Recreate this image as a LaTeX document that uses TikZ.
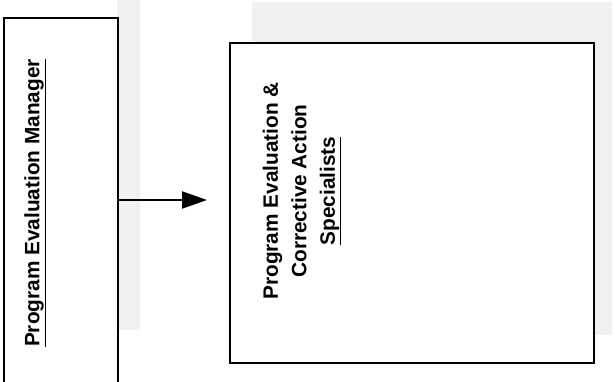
\documentclass[tikz,border=0pt]{standalone}
\usepackage{fontspec}
\setmainfont{Liberation Sans}
\usetikzlibrary{arrows.meta}
\tikzset{
  boxstyle/.style={draw=black, line width=2.2pt, fill=white, inner sep=0pt},
  labelstyle/.style={rotate=90, font=\bfseries\fontsize{20.8}{28.5}\selectfont, align=center, inner sep=0pt},
  shade/.style={fill=black!6, draw=none},
  link/.style={line width=2.2pt, -{Triangle[length=25pt,width=17pt]}}
}
\begin{document}
\begin{tikzpicture}[x=1pt,y=-1pt]
\useasboundingbox (0,0) rectangle (615,382);
\clip (0,0) rectangle (615,382);
% scan shadows
\fill[shade] (117,0) rectangle (140,330);
\fill[shade] (252,2) rectangle (612,42);
\fill[shade] (593,42) rectangle (612,335);
% boxes
\node[boxstyle, minimum width=114pt, minimum height=380pt, anchor=north west] (mgr) at (3,17) {};
\node[boxstyle, minimum width=364pt, minimum height=320pt, anchor=north west] (spec) at (229,42) {};
% texts
\node[labelstyle] (mgrtext) at (35,203) {\underline{Program Evaluation Manager}};
\node[labelstyle] (spectext) at (302,191) {Program Evaluation \&\\Corrective Action\\\underline{Specialists}};
% connector
\coordinate (tip) at (207,200);
\draw[link] (mgr.east |- tip) -- (tip);
\end{tikzpicture}
\end{document}
